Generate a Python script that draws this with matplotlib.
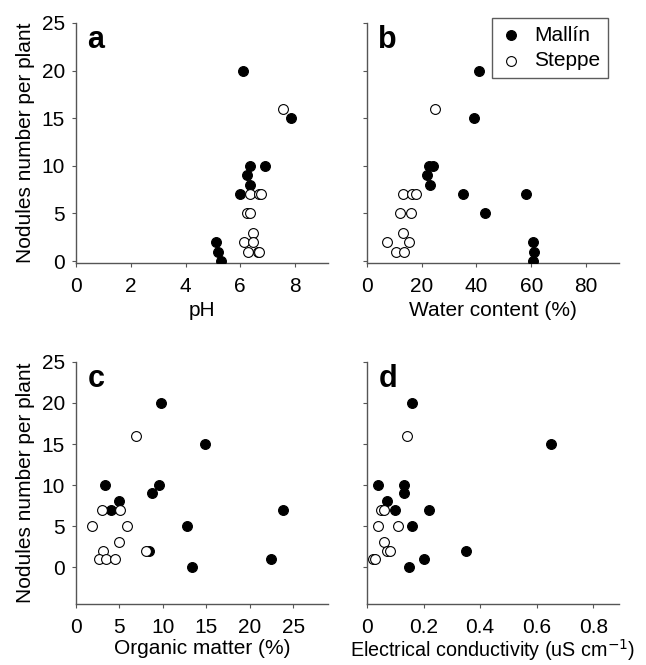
import matplotlib
matplotlib.use("Agg")
import matplotlib.pyplot as plt

plt.rcParams['font.family'] = ['Liberation Sans', 'DejaVu Sans']

# Nodules per plant (y) for each site type
mallin_nod = [20, 15, 10, 10, 9, 8, 7, 2, 1, 0]
mallin_ph = [6.1, 7.85, 6.35, 6.9, 6.25, 6.35, 6.0, 5.1, 5.2, 5.3]
steppe_nod_a = [16, 7, 7, 7, 5, 5, 3, 2, 2, 1, 1, 1]
steppe_ph = [7.55, 6.35, 6.7, 6.75, 6.25, 6.35, 6.45, 6.15, 6.45, 6.3, 6.65, 6.7]

mallin_nod_b = [20, 15, 10, 10, 9, 8, 7, 7, 5, 2, 1, 0]
mallin_water = [41, 39, 22.5, 24, 22, 23, 35, 58, 43, 60.5, 61, 60.5]
steppe_nod_b = [16, 7, 7, 7, 5, 5, 3, 2, 2, 1, 1]
steppe_water = [25, 13, 16.5, 18, 12, 16, 13, 7.5, 15.5, 10.5, 13.5]

mallin_nod_c = [20, 15, 10, 10, 9, 8, 7, 7, 5, 2, 1, 0]
mallin_om = [9.8, 14.8, 3.3, 9.5, 8.8, 4.9, 4.0, 23.8, 12.8, 8.4, 22.5, 13.4]
steppe_nod_c = [16, 7, 7, 5, 5, 3, 2, 2, 1, 1, 1]
steppe_om = [6.9, 3.0, 5.1, 1.9, 5.9, 4.9, 3.1, 8.1, 2.6, 3.5, 4.5]

mallin_nod_d = [20, 15, 10, 10, 9, 8, 7, 7, 5, 2, 1, 0]
mallin_ec = [0.16, 0.65, 0.04, 0.13, 0.13, 0.07, 0.10, 0.22, 0.16, 0.35, 0.20, 0.15]
steppe_nod_d = [16, 7, 7, 5, 5, 3, 2, 2, 1, 1]
steppe_ec = [0.14, 0.05, 0.06, 0.04, 0.11, 0.06, 0.07, 0.08, 0.02, 0.03]

fig = plt.figure(figsize=(6.46, 6.65), dpi=100)

# panel positions [left, bottom, width, height]
pos = {
    'a': [0.1176, 0.6045, 0.390, 0.361],
    'b': [0.568, 0.6045, 0.390, 0.361],
    'c': [0.1176, 0.0917, 0.390, 0.364],
    'd': [0.568, 0.0917, 0.390, 0.364],
}

panels = [
    ('a', mallin_ph, mallin_nod, steppe_ph, steppe_nod_a, (0, 9.2), [0, 2, 4, 6, 8], ['0', '2', '4', '6', '8'], 'pH', (-0.2, 25)),
    ('b', mallin_water, mallin_nod_b, steppe_water, steppe_nod_b, (0, 92), [0, 20, 40, 60, 80], ['0', '20', '40', '60', '80'], 'Water content (%)', (-0.2, 25)),
    ('c', mallin_om, mallin_nod_c, steppe_om, steppe_nod_c, (0, 29), [0, 5, 10, 15, 20, 25], ['0', '5', '10', '15', '20', '25'], 'Organic matter (%)', (-4.5, 25)),
    ('d', mallin_ec, mallin_nod_d, steppe_ec, steppe_nod_d, (0, 0.89), [0, 0.2, 0.4, 0.6, 0.8], ['0', '0.2', '0.4', '0.6', '0.8'], 'Electrical conductivity (uS cm$^{-1}$)', (-4.5, 25)),
]

for name, mx, my, sx, sy, xlim, xt, xtl, xlabel, ylim in panels:
    ax = fig.add_axes(pos[name])
    ax.scatter(mx, my, s=50, c='black', edgecolors='black', linewidths=0.8, label='Mallín', zorder=3)
    ax.scatter(sx, sy, s=50, c='white', edgecolors='black', linewidths=0.8, label='Steppe', zorder=4)
    ax.set_xlim(xlim)
    ax.set_ylim(ylim)
    ax.set_xticks(xt)
    ax.set_xticklabels(xtl)
    ax.set_yticks([0, 5, 10, 15, 20, 25])
    for s in ['top', 'right']:
        ax.spines[s].set_visible(False)
    for s in ['left', 'bottom']:
        ax.spines[s].set_color('#555555')
        ax.spines[s].set_linewidth(1.0)
    ax.tick_params(direction='out', length=3, width=0.8, color='#555555', labelsize=15)
    ax.tick_params(axis='x', pad=7)
    ax.tick_params(axis='y', pad=5)
    if name == 'd':
        ax.set_xlabel(xlabel, fontsize=14.2, labelpad=0)
    elif name == 'c':
        ax.set_xlabel(xlabel, fontsize=15, labelpad=1.5)
    else:
        ax.set_xlabel(xlabel, fontsize=15, labelpad=4)
    if name in ('a', 'c'):
        ax.set_ylabel('Nodules number per plant', fontsize=15, labelpad=5)
    else:
        ax.set_yticklabels([])
    ax.text(0.045, 0.99, name, transform=ax.transAxes, fontsize=22, fontweight='bold', va='top', ha='left')
    if name == 'b':
        leg = ax.legend(loc='upper right', bbox_to_anchor=(0.975, 1.04), fontsize=15, frameon=True,
                        fancybox=False, handletextpad=0.6, borderpad=0.4, labelspacing=0.3,
                        handlelength=1.0, borderaxespad=0.2)
        leg.get_frame().set_edgecolor('#333333')
        leg.get_frame().set_linewidth(1.0)

fig.savefig('out.png', dpi=100)
